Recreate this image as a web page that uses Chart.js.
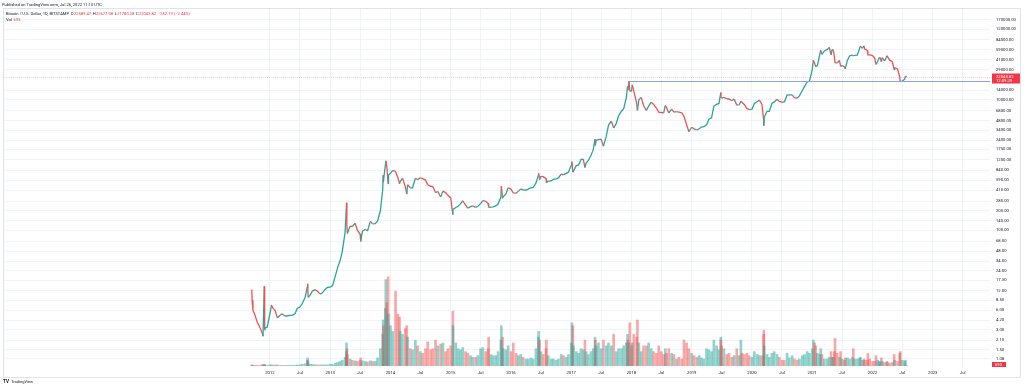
<!DOCTYPE html>
<html lang="en">
<head>
    <meta charset="UTF-8">
    <title>Bitcoin / U.S. Dollar, 1D, BITSTAMP</title>
    <script src="https://cdn.jsdelivr.net/npm/chart.js"></script>
    <style>
        html, body { margin: 0; padding: 0; background: #fff; overflow: hidden; }
        canvas { display: block; }
    </style>
</head>
<body>
    <canvas id="btc-chart" width="1024" height="387"></canvas>

    <script>
        // semi-monthly closes (plus a few spike days), BTCUSD Bitstamp
        const dates = [
            '2011-09-13','2011-09-15','2011-09-20','2011-10-01','2011-10-15','2011-11-01','2011-11-15','2011-11-20','2011-11-28','2011-11-30','2011-12-01','2011-12-15',
            '2012-01-01','2012-01-10','2012-01-20','2012-02-01','2012-02-15','2012-03-01','2012-03-15','2012-04-01','2012-04-15','2012-05-01','2012-05-15','2012-06-01','2012-06-15','2012-07-01','2012-07-15','2012-08-01','2012-08-15','2012-08-17','2012-08-20','2012-09-01','2012-09-15','2012-10-01','2012-10-15','2012-11-01','2012-11-15','2012-12-01','2012-12-15',
            '2013-01-01','2013-01-15','2013-02-01','2013-02-15','2013-03-01','2013-03-15','2013-04-01','2013-04-09','2013-04-10','2013-04-12','2013-04-15','2013-05-01','2013-05-15','2013-06-01','2013-06-15','2013-07-01','2013-07-05','2013-07-15','2013-08-01','2013-08-15','2013-09-01','2013-09-15','2013-10-01','2013-10-15','2013-11-01','2013-11-15','2013-11-18','2013-11-19','2013-12-01','2013-12-04','2013-12-10','2013-12-18','2013-12-20',
            '2014-01-01','2014-01-15','2014-02-01','2014-02-15','2014-02-25','2014-03-01','2014-03-15','2014-04-01','2014-04-10','2014-04-15','2014-05-01','2014-05-15','2014-06-01','2014-06-15','2014-07-01','2014-07-15','2014-08-01','2014-08-15','2014-09-01','2014-09-15','2014-10-01','2014-10-15','2014-11-01','2014-11-15','2014-12-01','2014-12-15',
            '2015-01-01','2015-01-14','2015-01-15','2015-02-01','2015-02-15','2015-03-01','2015-03-15','2015-04-01','2015-04-15','2015-05-01','2015-05-15','2015-06-01','2015-06-15','2015-07-01','2015-07-15','2015-08-01','2015-08-15','2015-08-19','2015-09-01','2015-09-15','2015-10-01','2015-10-15','2015-11-01','2015-11-04','2015-11-11','2015-11-15','2015-12-01','2015-12-15',
            '2016-01-01','2016-01-15','2016-02-01','2016-02-15','2016-03-01','2016-03-15','2016-04-01','2016-04-15','2016-05-01','2016-05-15','2016-06-01','2016-06-15','2016-06-17','2016-06-23','2016-07-01','2016-07-15','2016-08-01','2016-08-03','2016-08-15','2016-09-01','2016-09-15','2016-10-01','2016-10-15','2016-11-01','2016-11-15','2016-12-01','2016-12-15',
            '2017-01-01','2017-01-05','2017-01-11','2017-01-15','2017-02-01','2017-02-15','2017-03-01','2017-03-15','2017-03-25','2017-04-01','2017-04-15','2017-05-01','2017-05-15','2017-05-25','2017-05-27','2017-06-01','2017-06-15','2017-07-01','2017-07-15','2017-08-01','2017-08-15','2017-09-01','2017-09-15','2017-10-01','2017-10-15','2017-11-01','2017-11-15','2017-12-01','2017-12-08','2017-12-10','2017-12-17','2017-12-22',
            '2018-01-01','2018-01-06','2018-01-15','2018-02-01','2018-02-06','2018-02-15','2018-03-01','2018-03-15','2018-04-01','2018-04-15','2018-05-01','2018-05-15','2018-06-01','2018-06-15','2018-07-01','2018-07-15','2018-07-25','2018-08-01','2018-08-15','2018-09-01','2018-09-15','2018-10-01','2018-10-15','2018-11-01','2018-11-15','2018-12-01','2018-12-15',
            '2019-01-01','2019-01-15','2019-02-01','2019-02-15','2019-03-01','2019-03-15','2019-04-01','2019-04-15','2019-05-01','2019-05-15','2019-06-01','2019-06-15','2019-06-26','2019-06-27','2019-07-01','2019-07-15','2019-08-01','2019-08-15','2019-09-01','2019-09-15','2019-10-01','2019-10-15','2019-10-26','2019-11-01','2019-11-15','2019-12-01','2019-12-15',
            '2020-01-01','2020-01-15','2020-02-01','2020-02-15','2020-03-01','2020-03-12','2020-03-13','2020-03-15','2020-04-01','2020-04-15','2020-05-01','2020-05-15','2020-06-01','2020-06-15','2020-07-01','2020-07-15','2020-08-01','2020-08-15','2020-09-01','2020-09-15','2020-10-01','2020-10-15','2020-11-01','2020-11-15','2020-12-01','2020-12-15',
            '2021-01-01','2021-01-08','2021-01-15','2021-01-22','2021-02-01','2021-02-15','2021-02-21','2021-03-01','2021-03-15','2021-04-01','2021-04-14','2021-04-25','2021-05-01','2021-05-08','2021-05-15','2021-05-19','2021-06-01','2021-06-15','2021-06-22','2021-07-01','2021-07-15','2021-07-20','2021-08-01','2021-08-15','2021-09-01','2021-09-07','2021-09-15','2021-10-01','2021-10-15','2021-10-20','2021-11-01','2021-11-10','2021-11-15','2021-12-01','2021-12-04','2021-12-15',
            '2022-01-01','2022-01-15','2022-01-22','2022-02-01','2022-02-10','2022-02-15','2022-02-24','2022-03-01','2022-03-15','2022-03-29','2022-04-01','2022-04-15','2022-05-01','2022-05-12','2022-05-15','2022-06-01','2022-06-15','2022-06-18','2022-07-01','2022-07-15','2022-07-20','2022-07-26'
        ];
        const closes = [
            12.5, 8.5, 6.0, 5.2, 4.0, 3.3, 2.7, 2.4, 14.0, 3.0, 3.2, 3.3,
            5.3, 7.2, 6.4, 6.0, 4.6, 5.0, 5.3, 4.9, 4.9, 5.0, 5.0, 5.3, 6.4, 6.7, 7.6, 9.3, 13.5, 15.2, 9.5, 10.2, 11.8, 12.4, 11.8, 10.6, 11.1, 12.5, 13.4,
            13.5, 14.3, 20, 27, 34, 47, 93, 230, 265, 120, 90, 116, 115, 129, 100, 88, 68, 97, 104, 98, 138, 126, 127, 140, 200, 420, 700, 550, 1000, 1163, 950, 520, 700,
            750, 830, 800, 640, 520, 560, 630, 470, 360, 500, 450, 450, 630, 600, 640, 620, 590, 500, 475, 470, 380, 395, 325, 400, 380, 345,
            315, 175, 210, 225, 235, 255, 285, 245, 220, 232, 237, 225, 235, 257, 287, 280, 260, 225, 228, 230, 237, 254, 325, 480, 310, 330, 360, 450,
            430, 375, 372, 400, 432, 415, 416, 430, 450, 455, 535, 690, 750, 600, 675, 665, 620, 540, 570, 573, 607, 615, 638, 730, 710, 750, 780,
            995, 1130, 780, 820, 985, 1010, 1220, 1240, 920, 1080, 1180, 1420, 1740, 2500, 2000, 2400, 2450, 2500, 1950, 2750, 4100, 4700, 3700, 4350, 5700, 6700, 7300, 10900, 16000, 14000, 19300, 13800,
            13500, 17000, 13600, 9100, 6900, 10100, 10900, 8200, 6900, 8000, 9200, 8500, 7500, 6500, 6400, 6300, 8200, 7600, 6300, 7200, 6500, 6600, 6500, 6350, 5600, 4150, 3250,
            3800, 3600, 3450, 3600, 3830, 3900, 4150, 5050, 5300, 8000, 8550, 8800, 12900, 11000, 10600, 10900, 10400, 10300, 9700, 10300, 8300, 8400, 9500, 9200, 8500, 7400, 7100,
            7200, 8800, 9350, 9900, 8550, 4900, 4000, 5400, 6650, 6650, 8800, 9300, 10200, 9450, 9230, 9200, 11800, 11900, 11900, 10800, 10600, 11500, 13800, 15900, 18800, 19400,
            29000, 40500, 36800, 32000, 33500, 48600, 57500, 49600, 56000, 58800, 63500, 49000, 57800, 58500, 46400, 37000, 36700, 40200, 32500, 33500, 31800, 29800, 39800, 47000, 48800, 46800, 48100, 48200, 61600, 65900, 61300, 67000, 60000, 57000, 49000, 48900,
            47700, 43100, 35000, 38700, 44000, 44500, 38300, 44400, 39300, 47400, 46300, 40500, 38500, 29000, 31300, 29800, 22600, 19000, 19300, 20800, 23200, 22043.82
        ];
        // volume, thousand BTC
        const volumes = [
            2, 1, 1, 1, 1, 1, 2, 2, 3, 2, 1, 1,
            2, 2, 1, 2, 2, 1, 1, 1, 1, 1, 1, 1, 2, 2, 3, 4, 10, 14, 8, 3, 3, 2, 2, 2, 2, 2, 2,
            3, 3, 5, 6, 8, 10, 15, 25, 40, 30, 20, 12, 10, 9, 8, 10, 14, 9, 8, 7, 9, 8, 8, 14, 30, 55, 80, 70, 100, 150, 110, 155, 90,
            70, 60, 130, 90, 85, 60, 55, 65, 70, 50, 30, 28, 45, 35, 25, 22, 30, 42, 28, 30, 45, 35, 38, 40, 25, 30,
            35, 95, 70, 40, 30, 28, 32, 25, 22, 18, 15, 15, 18, 30, 32, 25, 30, 50, 20, 18, 18, 25, 45, 70, 50, 30, 28, 35,
            25, 40, 22, 18, 20, 15, 12, 12, 14, 12, 30, 50, 60, 45, 25, 20, 30, 45, 18, 12, 12, 10, 12, 20, 18, 15, 20,
            40, 75, 70, 35, 25, 22, 30, 28, 45, 25, 20, 25, 30, 50, 45, 35, 40, 30, 45, 35, 40, 35, 55, 25, 30, 30, 35, 40, 55, 45, 40, 75,
            35, 40, 55, 50, 80, 40, 25, 35, 35, 40, 30, 25, 22, 35, 25, 20, 30, 22, 30, 22, 20, 12, 15, 12, 45, 40, 30,
            22, 18, 15, 18, 14, 12, 30, 28, 25, 45, 35, 28, 50, 45, 35, 30, 20, 22, 15, 18, 30, 18, 45, 22, 20, 22, 18,
            15, 25, 20, 18, 18, 55, 62, 35, 20, 15, 22, 25, 20, 15, 10, 10, 22, 14, 18, 12, 10, 12, 18, 20, 25, 22,
            30, 45, 40, 35, 22, 20, 30, 20, 12, 12, 15, 25, 15, 15, 25, 48, 22, 15, 25, 12, 10, 14, 14, 12, 15, 30, 12, 12, 14, 15, 10, 12, 10, 10, 22, 12,
            8, 8, 18, 10, 8, 7, 14, 8, 6, 8, 6, 5, 6, 20, 10, 8, 22, 25, 10, 8, 10, 0.693
        ];

        const priceTicks = [170000, 120000, 84000, 59000, 41000, 29000, 14000, 10000, 6800, 4800, 3400, 2400, 1750, 1200,
            840, 590, 410, 280, 200, 140, 100, 68, 48, 34, 24, 17.3, 12, 8.5, 6, 4.2, 3, 2.1, 1.5, 1.08];
        const timeTicks = ['2012-01-01','2012-07-01','2013-01-01','2013-07-01','2014-01-01','2014-07-01','2015-01-01','2015-07-01',
            '2016-01-01','2016-07-01','2017-01-01','2017-07-01','2018-01-01','2018-07-01','2019-01-01','2019-07-01',
            '2020-01-01','2020-07-01','2021-01-01','2021-07-01','2022-01-01','2022-07-01','2023-01-01','2023-07-01'];

        const lastBar = { open: '22589.47', high: '22677.08', low: '21780.28', close: 22043.82, change: '−552.19 (−2.44%)', vol: '693', countdown: '12:09:29' };
        const rayLevel = 19666;
        const rayFrom = '2017-12-17';

        const UP = '#26a69a', DOWN = '#ef5350', RED = '#f23645', TEXT = '#131722';
        const FONT = 'Roboto, "Liberation Sans", Arial, sans-serif';

        function toYear(d) {
            const y = +d.slice(0, 4);
            const t = Date.parse(d + 'T00:00:00Z');
            const a = Date.UTC(y, 0, 1), b = Date.UTC(y + 1, 0, 1);
            return y + (t - a) / (b - a);
        }

        const pricePts = [], volBars = [], volColors = [];
        dates.forEach((d, i) => {
            const x = toYear(d);
            const prev = i === 0 ? closes[0] : closes[i - 1];
            pricePts.push({ x: x, y: closes[i] });
            volBars.push({ x: x, y: volumes[i] });
            volColors.push(closes[i] >= prev ? 'rgba(38,166,154,0.5)' : 'rgba(239,83,80,0.5)');
        });

        function drawRun(ctx, x, y, parts) {
            parts.forEach(p => {
                ctx.fillStyle = p[1];
                ctx.fillText(p[0], x, y);
                x += ctx.measureText(p[0]).width + (p[2] || 0);
            });
        }

        const tvOverlay = {
            id: 'tvOverlay',
            afterDraw(chart) {
                const ctx = chart.ctx;
                const area = chart.chartArea;
                const ys = chart.scales.y;
                const xs = chart.scales.x;
                ctx.save();

                // frame
                ctx.strokeStyle = '#e0e3eb';
                ctx.lineWidth = 1;
                ctx.strokeRect(3.5, 8.5, 1017, 369);

                // last price line (dotted)
                const py = Math.round(ys.getPixelForValue(lastBar.close)) + 0.5;
                ctx.strokeStyle = 'rgba(242,54,69,0.22)';
                ctx.setLineDash([1, 1]);
                ctx.beginPath();
                ctx.moveTo(area.left, py);
                ctx.lineTo(area.right, py);
                ctx.stroke();
                ctx.setLineDash([]);

                // horizontal ray from the 2017 top
                const ry = Math.round(ys.getPixelForValue(rayLevel)) + 0.5;
                ctx.strokeStyle = '#8aa2ea';
                ctx.beginPath();
                ctx.moveTo(xs.getPixelForValue(toYear(rayFrom)), ry);
                ctx.lineTo(area.right, ry);
                ctx.stroke();

                // price label on the axis
                ctx.fillStyle = RED;
                ctx.fillRect(992, py - 4, 28, 10);
                ctx.fillStyle = '#fff';
                ctx.font = '4.2px ' + FONT;
                ctx.textBaseline = 'middle';
                ctx.textAlign = 'left';
                ctx.fillText(lastBar.close.toFixed(2), 996, py - 0.6);
                ctx.fillText(lastBar.countdown, 996, py + 3.6);

                // volume label
                ctx.fillStyle = RED;
                ctx.fillRect(992, 362, 14, 5);
                ctx.fillStyle = '#fff';
                ctx.fillText(lastBar.vol, 995, 364.6);

                // header and legend
                ctx.font = '4.1px ' + FONT;
                ctx.fillStyle = TEXT;
                ctx.fillText('Published on TradingView.com, Jul 26, 2022 11:10 UTC', 2, 5);
                drawRun(ctx, 6, 14, [
                    ['Bitcoin / U.S. Dollar, 1D, BITSTAMP', TEXT, 1.8],
                    ['O', TEXT, 0.3], [lastBar.open, RED, 1.6],
                    ['H', TEXT, 0.3], [lastBar.high, RED, 1.6],
                    ['L', TEXT, 0.3], [lastBar.low, RED, 1.6],
                    ['C', TEXT, 0.3], [lastBar.close.toFixed(2), RED, 1.8],
                    [lastBar.change, RED, 0]
                ]);
                drawRun(ctx, 6, 20, [['Vol', TEXT, 1.6], [lastBar.vol, RED, 0]]);

                // logo
                ctx.font = 'bold 4.6px ' + FONT;
                ctx.fillStyle = TEXT;
                ctx.fillText('TV', 3, 381.5);
                ctx.font = '4px ' + FONT;
                ctx.fillText('TradingView', 11, 381.5);

                ctx.restore();
            }
        };

        const ctx = document.getElementById('btc-chart').getContext('2d');
        new Chart(ctx, {
            type: 'bar',
            data: {
                datasets: [
                    {
                        type: 'line',
                        label: 'BTCUSD',
                        data: pricePts,
                        yAxisID: 'y',
                        borderColor: UP,
                        borderWidth: 1.3,
                        pointRadius: 0,
                        tension: 0,
                        segment: {
                            borderColor: c => c.p1.parsed.y >= c.p0.parsed.y ? UP : DOWN
                        },
                        order: 1
                    },
                    {
                        label: 'Vol',
                        data: volBars,
                        yAxisID: 'vol',
                        backgroundColor: volColors,
                        barThickness: 2,
                        grouped: false,
                        order: 2
                    }
                ]
            },
            options: {
                responsive: false,
                animation: false,
                devicePixelRatio: 1,
                layout: { padding: { left: 3, top: 9, right: 0, bottom: 0 } },
                plugins: {
                    legend: { display: false },
                    tooltip: { enabled: false }
                },
                scales: {
                    x: {
                        type: 'linear',
                        min: 2007.57,
                        max: 2023.95,
                        offset: false,
                        grid: { color: '#f0f3fa', drawTicks: false, offset: false },
                        border: { display: false },
                        afterBuildTicks: s => { s.ticks = timeTicks.map(d => ({ value: toYear(d) })); },
                        afterFit: s => { s.height = 21; },
                        ticks: {
                            autoSkip: false,
                            maxRotation: 0,
                            padding: 4,
                            color: TEXT,
                            font: { family: FONT, size: 4.2 },
                            callback: (v, i) => timeTicks[i].slice(5, 7) === '01' ? timeTicks[i].slice(0, 4) : 'Jul'
                        }
                    },
                    y: {
                        type: 'logarithmic',
                        position: 'right',
                        min: 0.84,
                        max: 246000,
                        grid: { color: '#f0f3fa', drawTicks: false },
                        border: { display: false },
                        afterBuildTicks: s => { s.ticks = priceTicks.map(v => ({ value: v })); },
                        afterFit: s => { s.width = 34; },
                        ticks: {
                            autoSkip: false,
                            padding: 6,
                            color: TEXT,
                            font: { family: FONT, size: 4.2 },
                            callback: v => Number(v).toFixed(2)
                        }
                    },
                    vol: {
                        type: 'linear',
                        display: false,
                        min: 0,
                        max: 620
                    }
                }
            },
            plugins: [tvOverlay]
        });
    </script>
</body>
</html>
